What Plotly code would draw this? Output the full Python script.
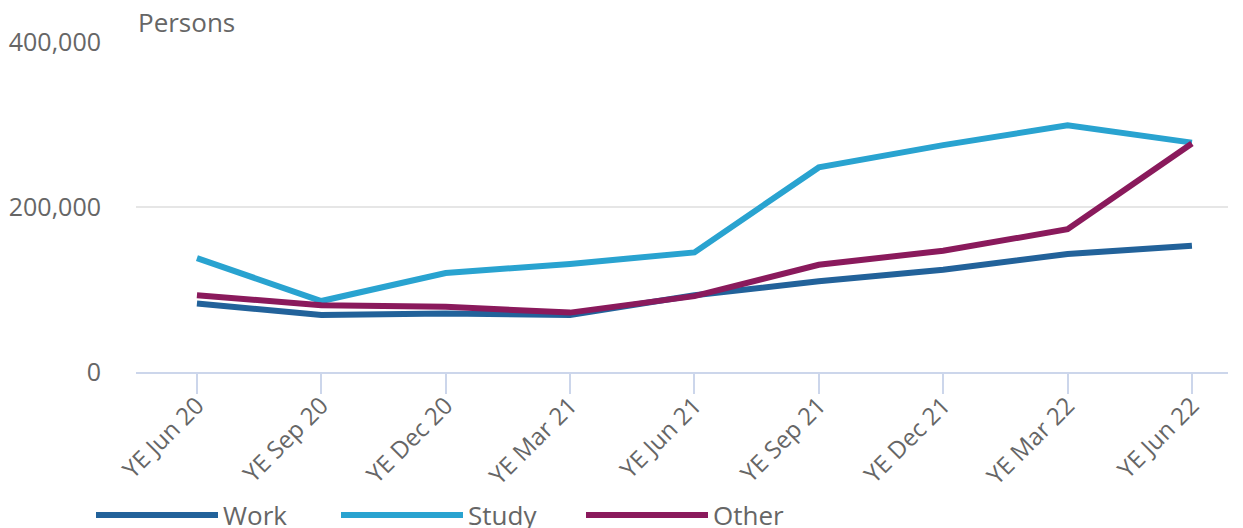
import plotly.graph_objects as go

# Dados
periods = ['YE Jun 20', 'YE Sep 20', 'YE Dec 20', 'YE Mar 21', 'YE Jun 21',
           'YE Sep 21', 'YE Dec 21', 'YE Mar 22', 'YE Jun 22']
work = [83000, 69000, 71000, 69000, 93000, 110000, 124000, 143000, 153000]
study = [138000, 86000, 120000, 131000, 145000, 248000, 275000, 299000, 278000]
other = [93000, 81000, 79000, 72000, 92000, 130000, 147000, 173000, 277000]

series = [
    ('Work', work, '#22629A'),
    ('Study', study, '#29A3D0'),
    ('Other', other, '#8A1A5C'),
]

W, H = 1243, 528
font_family = 'Open Sans'

fig = go.Figure()
for name, values, color in series:
    fig.add_trace(go.Scatter(
        x=periods,
        y=values,
        mode='lines',
        name=name,
        line=dict(color=color, width=6),
    ))

# a página tem 8px de margem no body, compensado nas margens
fig.update_layout(
    width=W,
    height=H,
    margin=dict(l=128, r=23, t=34, b=164),
    plot_bgcolor='white',
    paper_bgcolor='white',
    font=dict(family=font_family, color='#666666', size=24),
    showlegend=True,
    legend=dict(
        orientation='h',
        xref='container', yref='container',
        x=83 / W, y=21 / H,
        xanchor='left', yanchor='middle',
        font=dict(size=26, color='#666666'),
        itemwidth=122,
        entrywidth=108,
        tracegroupgap=0,
    ),
    annotations=[dict(
        text='Persons', xref='paper', yref='paper', x=0, y=1,
        xanchor='left', yanchor='bottom', showarrow=False, yshift=0,
        font=dict(size=26, color='#666666'),
    )],
)

fig.update_xaxes(
    type='category',
    range=[-0.49, 8.29],
    automargin=False,
    showgrid=False,
    showline=True, linecolor='#CCD6EB', linewidth=2,
    ticks='outside', ticklen=20, tickwidth=2, tickcolor='#CCD6EB',
    tickangle=-45,
    ticklabelstandoff=-12,
    tickfont=dict(size=24, color='#666666'),
)

fig.update_yaxes(
    range=[0, 400000],
    tickvals=[0, 200000, 400000],
    tickformat=',',
    automargin=False,
    showgrid=True, gridcolor='#E6E6E6', gridwidth=2,
    zeroline=False, showline=False,
    ticklabelstandoff=34,
    tickfont=dict(size=25, color='#666666'),
)

fig.write_html('out.html')
